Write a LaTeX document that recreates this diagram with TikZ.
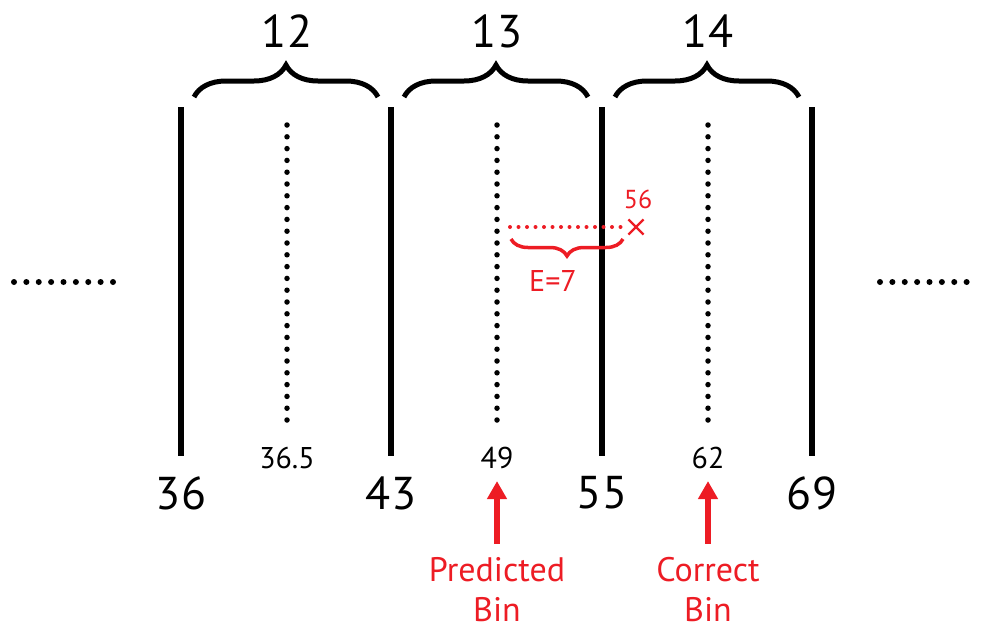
\documentclass[tikz,border=0pt]{standalone}
\usepackage{fontspec}
\setmainfont{PT Sans}
\usetikzlibrary{positioning, arrows.meta, decorations.pathreplacing, shapes.misc}

\definecolor{errred}{RGB}{237,28,36}

\begin{document}
\begin{tikzpicture}[x=1pt, y=-1pt,
    edge/.style={line width=6pt},
    centre/.style={line width=5.5pt, line cap=round, dash pattern=on 0pt off 11.8pt},
    dotrow/.style={line width=6pt, line cap=round, dash pattern=on 0pt off 12.375pt},
    binbrace/.style={decorate, decoration={brace, amplitude=32pt}, line width=5pt},
    bignum/.style={font=\fontsize{46}{50}\selectfont, inner sep=0pt},
    midnum/.style={font=\fontsize{30}{34}\selectfont, inner sep=0pt},
    redtext/.style={text=errred, inner sep=0pt},
    redarrow/.style={errred, line width=6pt, -{Triangle[width=19pt, length=18pt]}}
]
    \useasboundingbox (0,0) rectangle (982,630);

    % bin edges
    \foreach \x/\v in {181/36, 391/43, 602/55, 812/69} {
        \draw[edge] (\x,107) -- (\x,456);
        \node[bignum] (e\v) at (\x,493) {\v};
    }

    % bin centres
    \foreach \x/\v in {287/36.5, 497/49, 708/62} {
        \draw[centre] (\x,125) -- (\x,428);
        \node[midnum] (c\v) at (\x,458) {\v};
    }

    % bin numbers
    \foreach \x/\n in {181/12, 391/13, 602/14} {
        \draw[binbrace] (\x+13,97) -- (\x+197,97);
        \node[bignum] (bin\n) at (\x+106,31) {\n};
    }

    % more bins on both sides
    \draw[dotrow] (14,282) -- (113,282);
    \draw[dotrow] (880,282) -- (975,282);

    % error of the prediction
    \coordinate (err) at (510,227);
    \node[draw=errred, cross out, line width=2.2pt, minimum size=13pt, inner sep=0pt] (x56) at (636,227) {};
    \node[redtext, font=\fontsize{26}{30}\selectfont] (v56) at (638,199) {56};
    \draw[errred, line width=4pt, line cap=round, dash pattern=on 0pt off 8.5pt] (err) -- (x56.west);
    \draw[errred, decorate, decoration={brace, amplitude=17pt}, line width=3.5pt] (623,239) -- (511,239);
    \node[redtext, font=\fontsize{30}{34}\selectfont] (ev) at (553,281) {E=7};

    % labels
    \node[redtext, align=center, font=\fontsize{34}{40}\selectfont] (pred) at (497,590) {Predicted\\Bin};
    \node[redtext, align=center, font=\fontsize{34}{40}\selectfont] (corr) at (708,590) {Correct\\Bin};
    \draw[redarrow, shorten <=14pt, shorten >=12pt] (pred.north) -- (c49.south);
    \draw[redarrow, shorten <=14pt, shorten >=12pt] (corr.north) -- (c62.south);
\end{tikzpicture}
\end{document}
